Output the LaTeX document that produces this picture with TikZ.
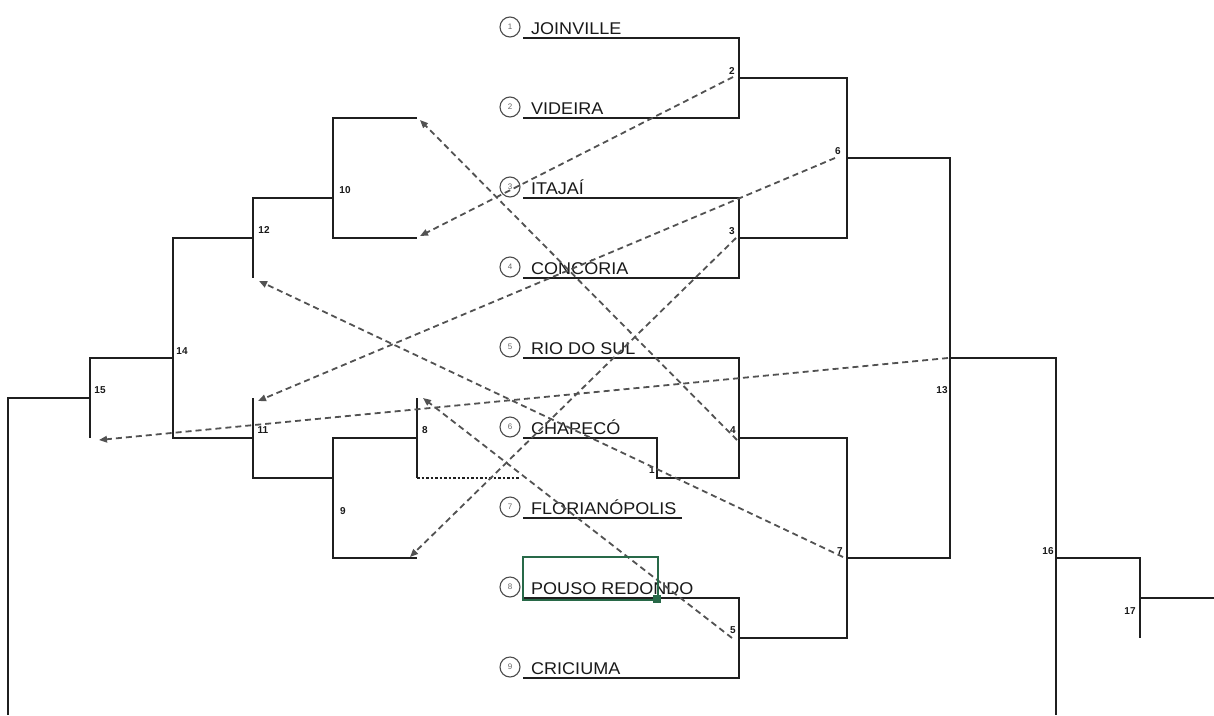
\documentclass[tikz,border=0pt]{standalone}
\usepackage{fontspec}
\setmainfont{Liberation Sans}
\newfontfamily\teamfont[FakeStretch=1.06]{Liberation Sans}
\usetikzlibrary{arrows.meta}
\definecolor{selgreen}{RGB}{40,105,72}
\tikzset{
  bracket/.style = {draw=black!88, line width=1.7pt},
  seed/.style = {circle, draw=black!70, line width=1.1pt, minimum size=20pt, inner sep=0pt, text=black!60, font=\fontsize{8}{9}\selectfont},
  teamname/.style = {anchor=base west, inner sep=0pt, text=black!90, font=\teamfont\fontsize{17}{20}\selectfont},
  matchno/.style = {inner sep=0pt, text=black!90, font=\fontsize{10}{12}\selectfont\bfseries},
  loser/.style = {draw=black!68, line width=1.8pt, dash pattern=on 6pt off 4pt, -{Triangle[length=8pt,width=6.5pt]}}
}

\begin{document}
\begin{tikzpicture}[x=1pt,y=-1pt]
	\useasboundingbox (0,0) rectangle (1214,715);
	% teams
	\foreach \n/\name/\y in {1/JOINVILLE/38, 2/VIDEIRA/118, 3/ITAJAÍ/198, 4/CONCÓRIA/278, 5/RIO DO SUL/358,
		6/CHAPECÓ/438, 7/FLORIANÓPOLIS/518, 8/POUSO REDONDO/598, 9/CRICIUMA/678}{
		\node [seed] (s\n) at (510,\y-11) {\n};
		\node [teamname] (t\n) at (531,\y-4) {\name};
	}

	% winners bracket
	\draw [bracket] (523,38) -| (739,118) -- (523,118);
	\draw [bracket] (523,198) -| (739,278) -- (523,278);
	\draw [bracket] (523,358) -| (739,478) -- (657,478) |- (523,438);
	\draw [bracket] (523,518) -- (682,518);
	\draw [bracket] (523,598) -| (739,678) -- (523,678);
	\draw [bracket] (739,78) -| (847,238) -- (739,238);
	\draw [bracket] (739,438) -| (847,638) -- (739,638);
	\draw [bracket] (847,158) -| (950,558) -- (847,558);
	\draw [bracket] (950,358) -| (1056,715);
	\draw [bracket] (1056,558) -| (1140,638);
	\draw [bracket] (1140,598) -- (1214,598);

	% losers bracket
	\draw [bracket] (417,118) -| (333,238) -- (417,238);
	\draw [bracket] (333,198) -| (253,278);
	\draw [bracket] (253,238) -| (173,438) -- (253,438);
	\draw [bracket] (253,398) |- (333,478);
	\draw [bracket] (417,398) -- (417,478);
	\draw [bracket, line width=1.3pt, dash pattern=on 2.5pt off 2pt] (417,478) -- (520,478);
	\draw [bracket] (417,438) -| (333,558) -- (417,558);
	\draw [bracket] (173,358) -| (90,438);
	\draw [bracket] (90,398) -| (8,715);

	% match numbers
	\node [matchno] (n1) at (652,470) {1};
	\node [matchno] (n2) at (732,71) {2};
	\node [matchno] (n3) at (732,231) {3};
	\node [matchno] (n4) at (733,430) {4};
	\node [matchno] (n5) at (733,630) {5};
	\node [matchno] (n6) at (838,151) {6};
	\node [matchno] (n7) at (840,551) {7};
	\node [matchno] (n8) at (425,430) {8};
	\node [matchno] (n9) at (343,511) {9};
	\node [matchno] (n10) at (345,190) {10};
	\node [matchno] (n11) at (263,430) {11};
	\node [matchno] (n12) at (264,230) {12};
	\node [matchno] (n13) at (942,390) {13};
	\node [matchno] (n14) at (182,351) {14};
	\node [matchno] (n15) at (100,390) {15};
	\node [matchno] (n16) at (1048,551) {16};
	\node [matchno] (n17) at (1130,611) {17};

	% where the losers go
	\coordinate (l2) at (733,77);   \coordinate (d10b) at (420,236);
	\coordinate (l3) at (736,238);  \coordinate (d9b) at (410,557);
	\coordinate (l4) at (737,440);  \coordinate (d10a) at (420,120);
	\coordinate (l5) at (732,638);  \coordinate (d8a) at (423,398);
	\coordinate (l6) at (835,158);  \coordinate (d11a) at (258,401);
	\coordinate (l7) at (843,557);  \coordinate (d12b) at (259,281);
	\coordinate (l13) at (948,358); \coordinate (d15b) at (99,440);
	\draw [loser] (l2) -- (d10b);
	\draw [loser] (l3) -- (d9b);
	\draw [loser] (l4) -- (d10a);
	\draw [loser] (l5) -- (d8a);
	\draw [loser] (l6) -- (d11a);
	\draw [loser] (l7) -- (d12b);
	\draw [loser] (l13) -- (d15b);

	% selection
	\draw [selgreen, line width=2.4pt] (523,557) rectangle (658,600);
	\fill [selgreen] (653,595) rectangle (661,603);
\end{tikzpicture}
\end{document}
